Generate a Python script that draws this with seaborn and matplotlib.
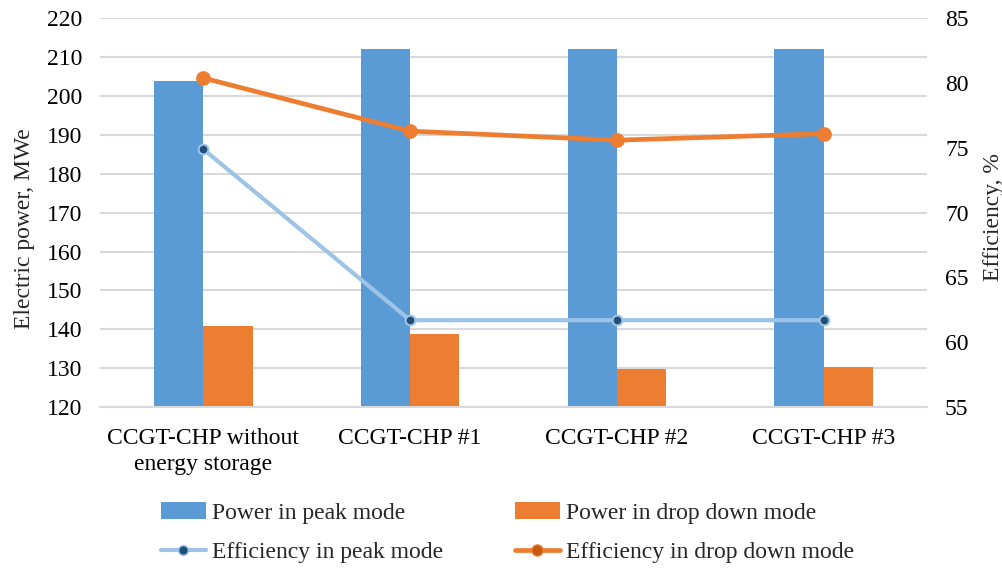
import matplotlib
matplotlib.use("Agg")
import matplotlib.pyplot as plt
import seaborn as sns
import pandas as pd
from matplotlib.lines import Line2D
from matplotlib.patches import Patch

categories = ["CCGT-CHP without\nenergy storage", "CCGT-CHP #1", "CCGT-CHP #2", "CCGT-CHP #3"]
power_peak = [204.0, 212.1, 212.2, 212.2]
power_drop = [140.8, 138.7, 129.7, 130.4]
eff_peak = [74.9, 61.7, 61.7, 61.7]
eff_drop = [80.4, 76.3, 75.6, 76.1]

sns.set_theme(style="white")
plt.rcParams['font.family'] = ['Liberation Serif', 'DejaVu Serif']

BLUE = "#5B9BD5"
ORANGE = "#ED7D31"
LBLUE = "#9DC3E6"
DBLUE = "#1F4E79"
DORANGE = "#C55A11"
GRID = "#D9D9D9"
FS = 17

fig = plt.figure(figsize=(10.03, 5.68), dpi=100)
ax = fig.add_axes([0.0997, 0.2835, 0.8245, 0.684])

df = pd.DataFrame({
    "cat": categories * 2,
    "val": power_peak + power_drop,
    "series": ["Power in peak mode"] * 4 + ["Power in drop down mode"] * 4,
})
sns.barplot(data=df, x="cat", y="val", hue="series", order=categories,
            palette=[BLUE, ORANGE], width=0.477, gap=0, ax=ax, legend=False,
            saturation=1, edgecolor="none")
ax.set_ylim(120, 220)
ax.set_yticks(range(120, 221, 10))
ax.set_xlim(-0.5, 3.5)
ax.yaxis.grid(True, color=GRID, linewidth=1.5)
ax.set_axisbelow(True)
for s in ["top", "left", "right"]:
    ax.spines[s].set_visible(False)
ax.spines["bottom"].set_color(GRID)
ax.spines["bottom"].set_linewidth(1.5)
ax.set_xlabel("")
ax.set_ylabel("Electric power, MWe", fontsize=FS)
ax.yaxis.set_label_coords(-0.078, 0.46)
ax.tick_params(axis="both", length=0, labelsize=FS, colors="#000000")
ax.tick_params(axis="y", pad=13)
ax.tick_params(axis="x", pad=15)
for t in ax.get_xticklabels():
    t.set_linespacing(1.3)

ax2 = ax.twinx()
dfe = pd.DataFrame({"cat": categories, "peak": eff_peak, "drop": eff_drop})
sns.pointplot(data=dfe, x="cat", y="peak", order=categories, color=LBLUE,
              markers="o", ax=ax2, linewidth=3, markersize=7)
sns.pointplot(data=dfe, x="cat", y="drop", order=categories, color=ORANGE,
              markers="o", ax=ax2, linewidth=3.4, markersize=8)
l1, l2 = ax2.lines[0], ax2.lines[1]
l1.set_markerfacecolor(DBLUE); l1.set_markeredgecolor(LBLUE); l1.set_markeredgewidth(1.5)
l2.set_markerfacecolor(DORANGE); l2.set_markeredgecolor(ORANGE); l2.set_markeredgewidth(1.5)
ax2.set_ylim(55, 85)
ax2.set_yticks(range(55, 86, 5))
ax2.set_xlim(-0.5, 3.5)
for s in ["top", "left", "right", "bottom"]:
    ax2.spines[s].set_visible(False)
ax2.set_xlabel("")
ax2.set_ylabel("Efficiency, %", fontsize=FS)
ax2.yaxis.set_label_coords(1.068, 0.49)
ax2.tick_params(axis="both", length=0, labelsize=FS, colors="#000000")
ax2.tick_params(axis="y", pad=13)

handles = [
    Patch(facecolor=BLUE, edgecolor="none", label="Power in peak mode"),
    Line2D([], [], color=LBLUE, lw=3, marker="o", markersize=7, markerfacecolor=DBLUE,
           markeredgecolor=LBLUE, label="Efficiency in peak mode"),
    Patch(facecolor=ORANGE, edgecolor="none", label="Power in drop down mode"),
    Line2D([], [], color=ORANGE, lw=3.4, marker="o", markersize=8, markerfacecolor=DORANGE,
           markeredgecolor=ORANGE, label="Efficiency in drop down mode"),
]
fig.legend(handles=handles, ncol=2, loc="upper left", bbox_to_anchor=(161 / 1003, 1 - 502 / 568),
           frameon=False, fontsize=FS, handlelength=1.9, columnspacing=3.05,
           labelspacing=0.78, handletextpad=0.25, borderaxespad=0, borderpad=0)

fig.savefig("out.png", dpi=100)
